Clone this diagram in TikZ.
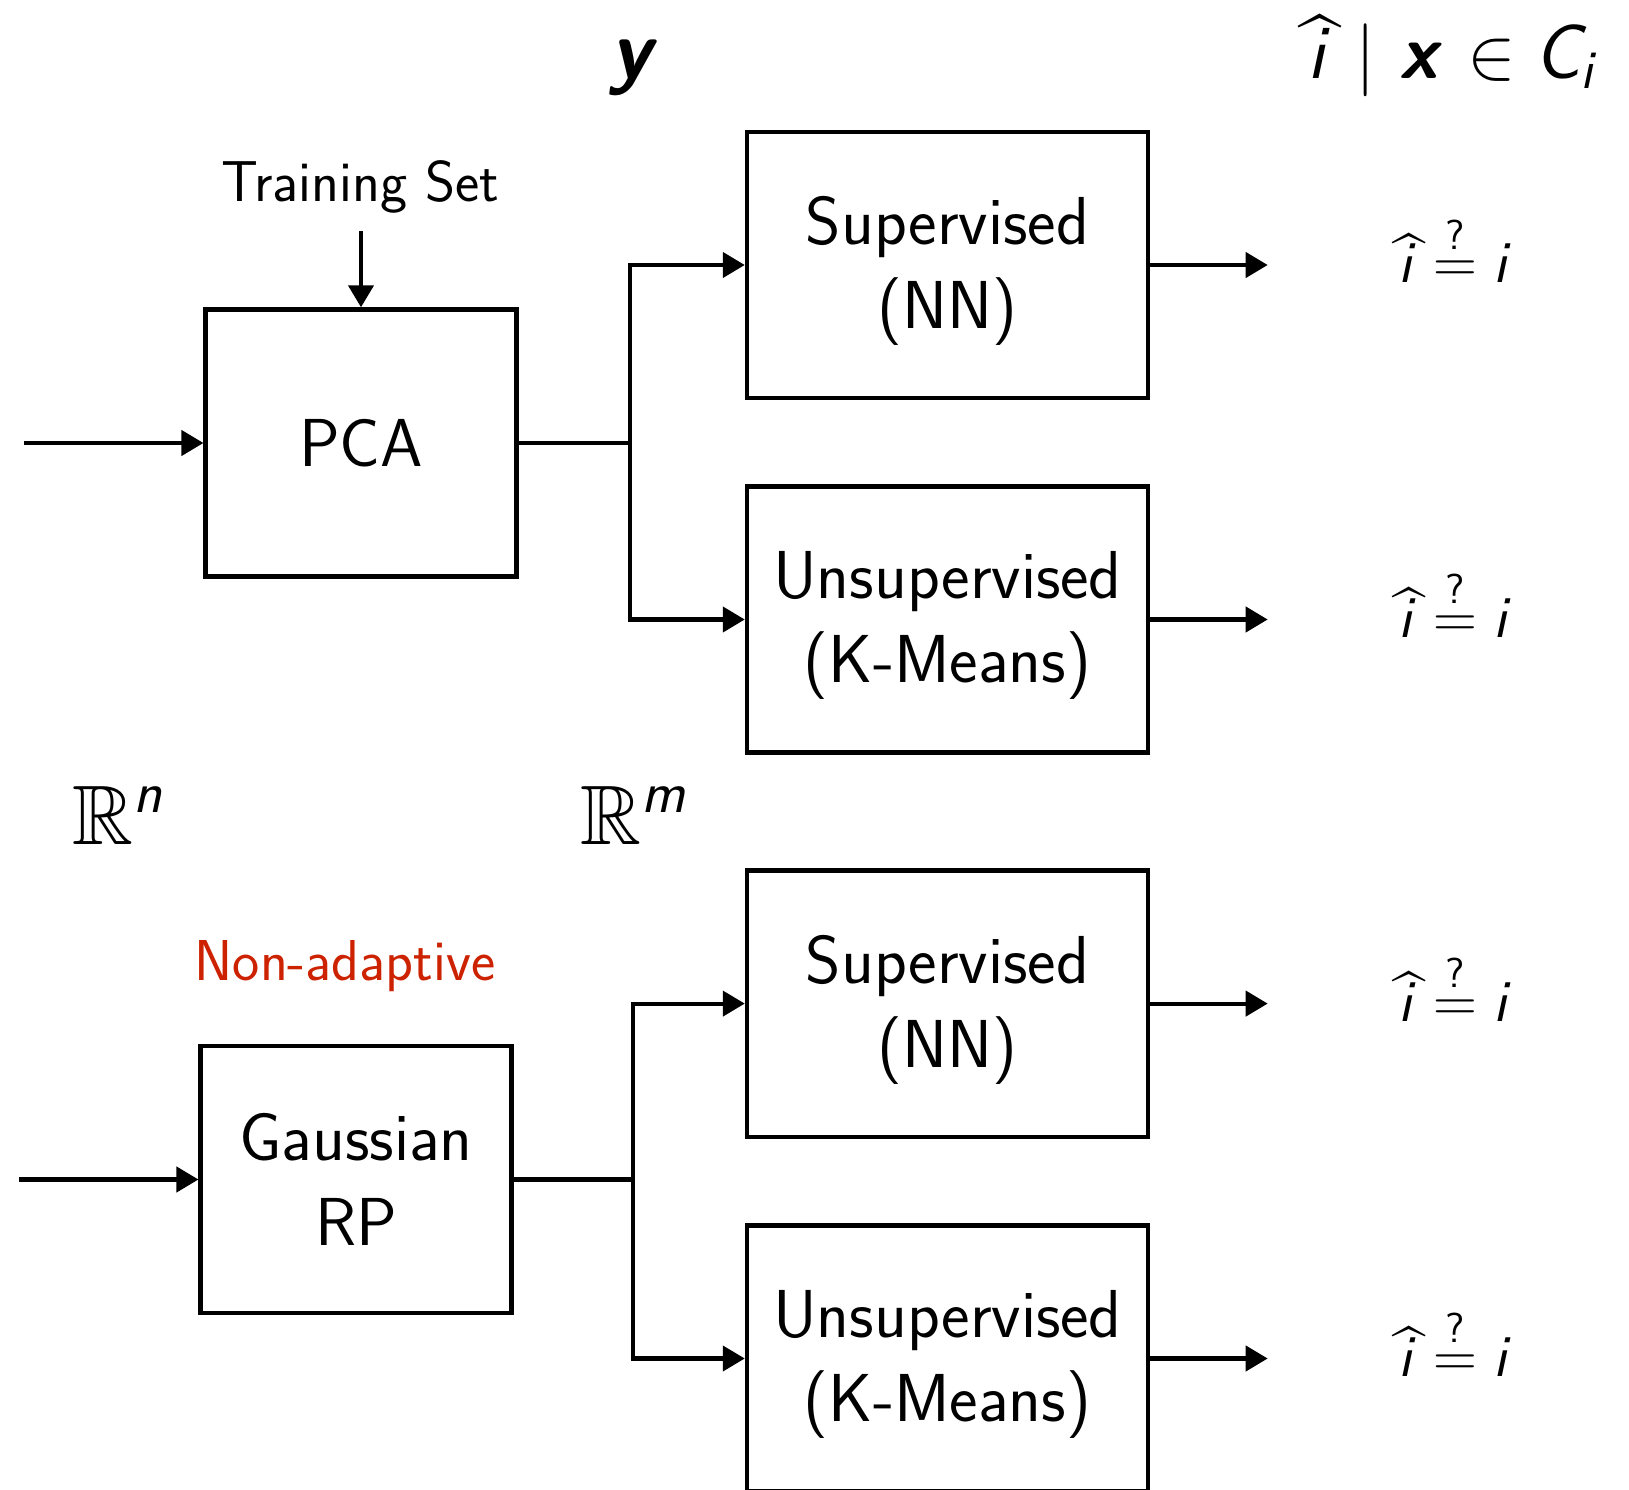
\documentclass[tikz,border=0pt]{standalone}
\usepackage{amsmath,amssymb}
\usetikzlibrary{arrows.meta}
\definecolor{alertred}{RGB}{204,34,0}
% sans oblique letters for the math labels
\newcommand{\vi}{\textsf{\slshape i}}
\newcommand{\vx}{\textsf{\bfseries\slshape x}}
\newcommand{\vy}{\textsf{\bfseries\slshape y}}
\newcommand{\vC}{\textsf{\slshape C}}
% estimated index: a circumflex over the oblique i, not counted in its width
\newcommand{\ihat}{\ooalign{\vi\cr\hidewidth\kern0.06em\raisebox{0.09em}{\textsf{\^{}}}\hidewidth\cr}}
\newcommand{\checkidx}{$\ihat\stackrel{\textsf{?}}{=}\vi$}
\begin{document}
\begin{tikzpicture}[x=0.01cm,y=-0.01cm,line width=0.042cm,
  blk/.style={draw,line width=0.042cm,inner sep=0pt,align=center,
    font=\fontsize{19.3}{24}\selectfont\sffamily},
  smallbox/.style={blk,minimum width=3.107cm,minimum height=2.67cm},
  bigbox/.style={blk,minimum width=4.01cm,minimum height=2.66cm},
  boxtxt/.style={inner sep=0pt,align=center,font=\fontsize{19.3}{24}\selectfont\sffamily},
  arr/.style={-{Triangle[length=0.22cm,width=0.25cm]}},
  lbl/.style={inner sep=0pt,font=\fontsize{16.4}{20}\selectfont\sffamily},
  res/.style={inner sep=0pt,anchor=base,font=\fontsize{17}{20}\selectfont\sffamily}]
\useasboundingbox (0,0) rectangle (1629,1490);
\clip (0,0) rectangle (1629,1490);

% upper chain: PCA
\node[smallbox] (pca) at (361,443) {PCA};
\node[bigbox] (sup1) at (947.5,265) {};
\node[bigbox] (uns1) at (947.5,619.5) {};
\node[boxtxt] (sup1t) at ([yshift=-0.06cm]sup1.center) {Supervised\\(NN)};
\node[boxtxt] (uns1t) at ([yshift=-0.06cm]uns1.center) {Unsupervised\\(K-Means)};
\node[lbl] (ts) at (360.5,187) {Training Set};
\coordinate (tsa) at (361,231);
\coordinate (in1) at (24,443);
\coordinate (b1) at (629.6,443);
\draw[arr] (in1) -- (pca.west);
\draw[arr] (tsa) -- (pca.north);
\draw (pca.east) -- (b1);
\draw[arr] (b1) |- (sup1.west);
\draw[arr] (b1) |- (uns1.west);
\path (sup1.east) ++(117.5,0) coordinate (o1);
\path (uns1.east) ++(117.5,0) coordinate (o2);
\draw[arr] (sup1.east) -- (o1);
\draw[arr] (uns1.east) -- (o2);
\node[res] (r1) at (1453,282.7) {\checkidx};
\node[res] (r2) at (1453,637.2) {\checkidx};

% lower chain: Gaussian random projection
\node[smallbox] (rp) at (356,1179.5) {Gaussian\\RP};
\node[bigbox] (sup2) at (947.5,1003.6) {};
\node[bigbox] (uns2) at (947.5,1358.5) {};
\node[boxtxt] (sup2t) at ([yshift=-0.06cm]sup2.center) {Supervised\\(NN)};
\node[boxtxt] (uns2t) at ([yshift=-0.06cm]uns2.center) {Unsupervised\\(K-Means)};
\node[lbl,text=alertred] (na) at (345,966) {Non-adaptive};
\coordinate (in2) at (19,1179.5);
\coordinate (b2) at (632.7,1179.5);
\draw[arr] (in2) -- (rp.west);
\draw (rp.east) -- (b2);
\draw[arr] (b2) |- (sup2.west);
\draw[arr] (b2) |- (uns2.west);
\path (sup2.east) ++(117.5,0) coordinate (o3);
\path (uns2.east) ++(117.5,0) coordinate (o4);
\draw[arr] (sup2.east) -- (o3);
\draw[arr] (uns2.east) -- (o4);
\node[res] (r3) at (1453,1021.3) {\checkidx};
\node[res] (r4) at (1453,1376.2) {\checkidx};

% space and output labels
\node[lbl,font=\fontsize{24}{26}\selectfont] (rn) at (118,815) {$\mathbb{R}^{\textsf{\slshape n}}$};
\node[lbl,font=\fontsize{24}{26}\selectfont] (rm) at (634,815) {$\mathbb{R}^{\textsf{\slshape m}}$};
\node[lbl,font=\fontsize{24}{26}\selectfont\sffamily] (ylab) at (633.8,68) {\vy};
\node[res,font=\fontsize{22}{26}\selectfont\sffamily] (out) at (1451,78)
  {$\ihat\hspace{0.255cm}|\hspace{0.245cm}\vx\hspace{0.285cm}{\in}\hspace{0.185cm}\vC_{\vi}$};
\end{tikzpicture}
\end{document}
